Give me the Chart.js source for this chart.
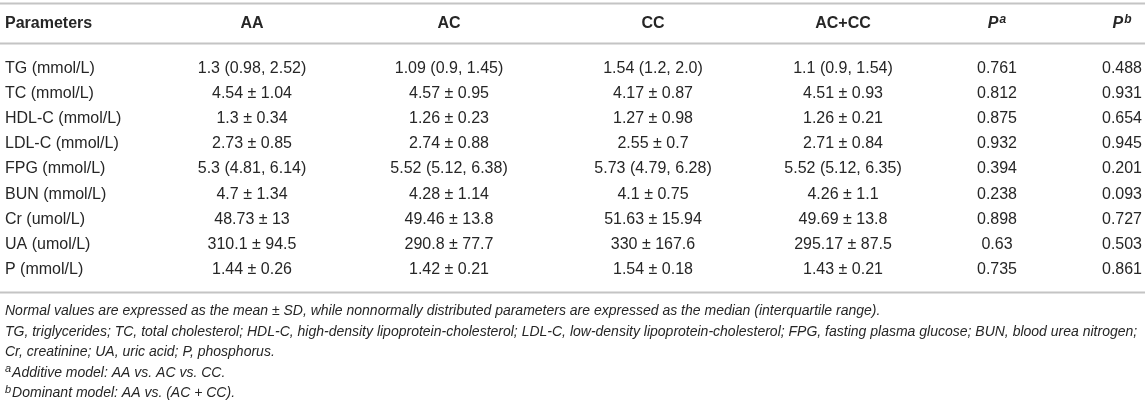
<!DOCTYPE html>
<html>
<head>
<meta charset="utf-8">
<script src="https://cdn.jsdelivr.net/npm/chart.js@4.4.1/dist/chart.umd.min.js"></script>
<style>
  html, body { margin: 0; padding: 0; background: #fff; }
  #wrap { width: 1145px; height: 409px; position: relative; }
</style>
</head>
<body>
<div id="wrap"><canvas id="table-chart" width="1145" height="409"></canvas></div>
<script>
// table content
const parameters = ['TG (mmol/L)', 'TC (mmol/L)', 'HDL-C (mmol/L)', 'LDL-C (mmol/L)', 'FPG (mmol/L)',
    'BUN (mmol/L)', 'Cr (umol/L)', 'UA (umol/L)', 'P (mmol/L)'];
const aa = ['1.3 (0.98, 2.52)', '4.54 ± 1.04', '1.3 ± 0.34', '2.73 ± 0.85', '5.3 (4.81, 6.14)',
    '4.7 ± 1.34', '48.73 ± 13', '310.1 ± 94.5', '1.44 ± 0.26'];
const ac = ['1.09 (0.9, 1.45)', '4.57 ± 0.95', '1.26 ± 0.23', '2.74 ± 0.88', '5.52 (5.12, 6.38)',
    '4.28 ± 1.14', '49.46 ± 13.8', '290.8 ± 77.7', '1.42 ± 0.21'];
const cc = ['1.54 (1.2, 2.0)', '4.17 ± 0.87', '1.27 ± 0.98', '2.55 ± 0.7', '5.73 (4.79, 6.28)',
    '4.1 ± 0.75', '51.63 ± 15.94', '330 ± 167.6', '1.54 ± 0.18'];
const acCc = ['1.1 (0.9, 1.54)', '4.51 ± 0.93', '1.26 ± 0.21', '2.71 ± 0.84', '5.52 (5.12, 6.35)',
    '4.26 ± 1.1', '49.69 ± 13.8', '295.17 ± 87.5', '1.43 ± 0.21'];
const pA = ['0.761', '0.812', '0.875', '0.932', '0.394', '0.238', '0.898', '0.63', '0.735'];
const pB = ['0.488', '0.931', '0.654', '0.945', '0.201', '0.093', '0.727', '0.503', '0.861'];

const headers = [
    { text: 'Parameters' }, { text: 'AA' }, { text: 'AC' }, { text: 'CC' }, { text: 'AC+CC' },
    { text: 'P', sup: 'a' }, { text: 'P', sup: 'b' }
];
const notes = [
    { text: 'Normal values are expressed as the mean ± SD, while nonnormally distributed parameters are expressed as the median (interquartile range).' },
    { text: 'TG, triglycerides; TC, total cholesterol; HDL-C, high-density lipoprotein-cholesterol; LDL-C, low-density lipoprotein-cholesterol; FPG, fasting plasma glucose; BUN, blood urea nitrogen;' },
    { text: 'Cr, creatinine; UA, uric acid; P, phosphorus.' },
    { sup: 'a', text: 'Additive model: AA vs. AC vs. CC.' },
    { sup: 'b', text: 'Dominant model: AA vs. (AC + CC).' }
];

// layout (x position of each column on a 0..1145 axis, and alignment)
const colX = [5, 252, 449, 653, 843, 997, 1122];
const colAlign = ['left', 'center', 'center', 'center', 'center', 'center', 'center'];

const FONT = "'Liberation Sans', Arial, Helvetica, sans-serif";
const TEXT = '#262626';
const RULE = '#c4c4c4';

const columns = [parameters, aa, ac, cc, acCc, pA, pB];

const tablePlugin = {
    id: 'tableText',
    afterDatasetsDraw(chart) {
        const ctx = chart.ctx;
        const area = chart.chartArea;
        const w = chart.width;
        ctx.save();
        ctx.fillStyle = TEXT;
        ctx.textBaseline = 'middle';

        // body cells, placed on the dataset points
        chart.data.datasets.forEach((ds, j) => {
            const meta = chart.getDatasetMeta(j);
            ctx.font = '16px ' + FONT;
            ctx.textAlign = colAlign[j];
            meta.data.forEach((pt, i) => {
                ctx.fillText(ds.data[i].label, pt.x, pt.y);
            });
        });

        // rules
        const headLineY = area.top - 12;
        const headY = headLineY - 20;
        const topLineY = headLineY - 40;
        const botLineY = area.bottom + 10;
        ctx.strokeStyle = RULE;
        ctx.lineWidth = 2;
        [topLineY, headLineY, botLineY].forEach(y => {
            ctx.beginPath();
            ctx.moveTo(0, y);
            ctx.lineTo(w, y);
            ctx.stroke();
        });

        // header
        const xs = chart.scales.x;
        headers.forEach((h, j) => {
            const x = xs.getPixelForValue(colX[j]);
            if (!h.sup) {
                ctx.font = 'bold 16px ' + FONT;
                ctx.textAlign = colAlign[j];
                ctx.fillText(h.text, x, headY);
                return;
            }
            ctx.font = 'italic bold 16px ' + FONT;
            const w1 = ctx.measureText(h.text).width;
            ctx.font = 'italic bold 12px ' + FONT;
            const w2 = ctx.measureText(h.sup).width;
            const x0 = x - (w1 + w2 + 1) / 2;
            ctx.textAlign = 'left';
            ctx.font = 'italic bold 16px ' + FONT;
            ctx.fillText(h.text, x0, headY);
            ctx.font = 'italic bold 12px ' + FONT;
            ctx.fillText(h.sup, x0 + w1 + 1, headY - 4);
        });

        // footnotes
        ctx.textAlign = 'left';
        notes.forEach((n, k) => {
            const y = botLineY + 19 + k * 20.5;
            let x = 5;
            if (n.sup) {
                ctx.font = 'italic 11px ' + FONT;
                ctx.fillText(n.sup, x, y - 4);
                x += ctx.measureText(n.sup).width + 1;
            }
            ctx.font = 'italic 14px ' + FONT;
            ctx.fillText(n.text, x, y);
        });
        ctx.restore();
    }
};

const datasets = columns.map((col, j) => ({
    label: headers[j].text,
    data: col.map((v, i) => ({ x: colX[j], y: parameters[i], label: v })),
    pointRadius: 0,
    showLine: false
}));

new Chart(document.getElementById('table-chart'), {
    type: 'scatter',
    data: { datasets },
    options: {
        responsive: false,
        animation: false,
        events: [],
        layout: { padding: { top: 55.5, bottom: 126.5, left: 0, right: 0 } },
        plugins: { legend: { display: false }, tooltip: { enabled: false } },
        scales: {
            x: { type: 'linear', min: 0, max: 1145, display: false },
            y: { type: 'category', labels: parameters, offset: true, display: false }
        }
    },
    plugins: [tablePlugin]
});
</script>
</body>
</html>
